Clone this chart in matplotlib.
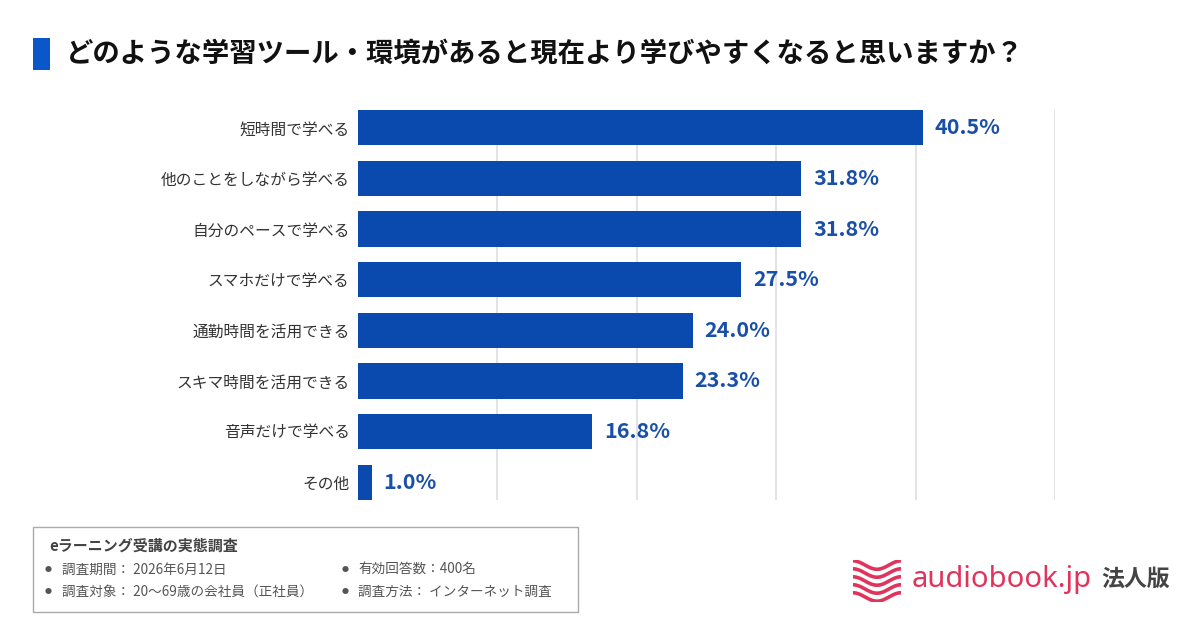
import numpy as np
import matplotlib
matplotlib.use("Agg")
import matplotlib.pyplot as plt
from matplotlib.patches import Rectangle

plt.rcParams['font.family'] = ['Noto Sans CJK JP', 'DejaVu Sans']

categories = ["短時間で学べる", "他のことをしながら学べる", "自分のペースで学べる", "スマホだけで学べる",
              "通勤時間を活用できる", "スキマ時間を活用できる", "音声だけで学べる", "その他"]
values = [40.5, 31.8, 31.8, 27.5, 24.0, 23.3, 16.8, 1.0]
xticks = [10, 20, 30, 40, 50]

title = "どのような学習ツール・環境があると現在より学びやすくなると思いますか？"
info_title = "eラーニング受講の実態調査"
info_items = [("調査期間： 2026年6月12日", "有効回答数：400名"),
              ("調査対象： 20～69歳の会社員（正社員）", "調査方法： インターネット調査")]

W, H = 1200, 628
fig = plt.figure(figsize=(W / 100, H / 100), dpi=100)
fig.patch.set_facecolor("white")

def fx(px):
    return px / W

def fy(py):
    return 1 - py / H

ax = fig.add_axes([fx(358), fy(500), fx(1055) - fx(358), fy(110) - fy(500)])
bar_color = "#0A4AAE"
ypos = np.arange(len(categories))
ax.barh(ypos, values, height=0.7, color=bar_color, zorder=3)
ax.set_xlim(0, 50)
ax.set_ylim(len(categories) - 1 + 0.35, -0.35)
ax.set_xticks(xticks)
ax.xaxis.grid(True, color="#DDDDE3", linewidth=1.2, zorder=0)
ax.tick_params(axis="x", length=0, labelbottom=False)
ax.tick_params(axis="y", length=0, pad=6)
ax.set_yticks(ypos)
ax.set_yticklabels(categories, fontsize=11.3, color="#333333")
for s in ax.spines.values():
    s.set_visible(False)
for y, v in zip(ypos, values):
    ax.annotate(f"{v:.1f}%", (v, y), xytext=(8.5, 0), textcoords="offset points",
                va="center", ha="left", fontsize=15.5, fontweight="bold", color="#1A4FA8")

# title
fig.patches.append(Rectangle((fx(33), fy(70)), fx(17), fy(38) - fy(70), transform=fig.transFigure,
                             facecolor="#0B57C9", edgecolor="none"))
fig.text(fx(66), fy(54), title, fontsize=19.7, fontweight="bold", color="#111111", va="center", ha="left")

# info box
fig.patches.append(Rectangle((fx(33), fy(612)), fx(578) - fx(33), fy(527) - fy(612),
                             transform=fig.transFigure, facecolor="white", edgecolor="#AAAAAA", linewidth=1))
fig.text(fx(49), fy(546), info_title, fontsize=10.8, fontweight="bold", color="#444444", va="center")
for row, (a, b) in enumerate(info_items):
    yy = fy(570 + row * 22)
    fig.text(fx(45), yy, "●", fontsize=5, color="#555555", va="center")
    fig.text(fx(62), yy, a, fontsize=9.8, color="#555555", va="center")
    fig.text(fx(342), yy, "●", fontsize=5, color="#555555", va="center")
    fig.text(fx(358), yy, b, fontsize=9.8, color="#555555", va="center")

# logo
logo_red = "#E0345C"
lax = fig.add_axes([fx(853), fy(602), fx(48), fy(560) - fy(602)])
lax.set_xlim(0, 1)
lax.set_ylim(0, 1)
lax.axis("off")
t = np.linspace(0, 1, 100)
for k in range(5):
    base = 0.12 + k * 0.19
    lax.plot(t, base + 0.1 * np.cos(np.pi * 2 * t),
             color=logo_red, linewidth=2.6, solid_capstyle="round")
fig.text(fx(912), fy(580), "audiobook.jp", fontsize=21, color=logo_red, va="center", ha="left",
         family=["Noto Sans", "DejaVu Sans"], fontweight="medium")
fig.text(fx(1101), fy(579), "法人版", fontsize=16.5, color="#444444", va="center", ha="left",
         fontweight="bold")

fig.savefig("out.png", dpi=100, facecolor="white")
